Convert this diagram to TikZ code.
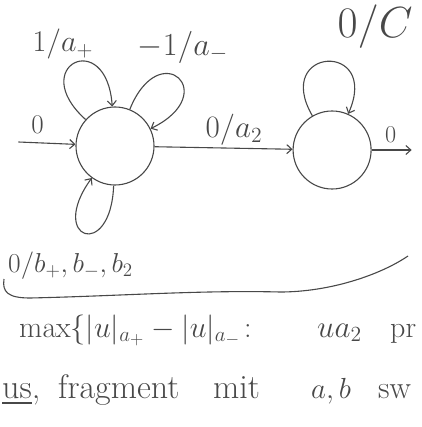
\documentclass[tikz,border=0pt]{standalone}
\usepackage{amsmath,amssymb}
\usepackage{graphicx}
\usetikzlibrary{positioning,arrows.meta}
\definecolor{ink}{RGB}{72,72,72}
\newcommand{\hw}[2][1.4]{\scalebox{#1}{#2}}

\begin{document}
\begin{tikzpicture}[x=1pt,y=-1pt,
		state/.style={circle, draw=ink, line width=1.1pt, minimum size=78pt, inner sep=0pt},
		trans/.style={draw=ink, line width=1.1pt, -{Straight Barb[length=5pt,width=9pt]}},
		lbl/.style={text=ink, inner sep=1pt},
		big/.style={lbl, font=\huge},
		line/.style={lbl, anchor=base west, font=\fontsize{34}{36}\selectfont}]
		% 0. 画布大小与裁剪
		\useasboundingbox (0,0) rectangle (421,427);
		\clip (0,0) rectangle (421,427);
		
		% 1. 两个状态
		\node [state] (q0) at (115,146) {};
		\node [state, right=138pt of q0, yshift=-4pt] (q1) {};
		
		% 2. 入口与出口的自由端
		\coordinate [left=57pt of q0, yshift=4pt] (in);
		\coordinate [right=40pt of q1] (out);
		
		% 3. 转移
		\draw [trans] (in) -- (q0);
		\draw [trans] (q0) -- (q1);
		\draw [trans] (q1) -- (out);
		
		% 自环 (左上, 右上, 下方, 右状态)
		\draw [trans] (q0) to [out=138, in=94, distance=80pt] (q0);
		\draw [trans] (q0) to [out=68, in=26, distance=80pt] (q0);
		\draw [trans] (q0) to [out=-92, in=234, distance=76pt] (q0);
		\draw [trans] (q1) to [out=120, in=66, distance=80pt] (q1);
		
		% 4. 标签
		\node [big] (l_p) at (63,44) {\hw[1.45]{$1/a_+$}};
		\node [big] (l_m) at (183,47) {\hw[1.55]{$-1/a_-$}};
		\node [big] (l_c) at (375,27) {\hw[2.1]{$0/C$}};
		\node [big, above=7pt of in, xshift=19pt] (l_in) {\hw[1.3]{$0$}};
		\node [big] (l_a) at (234,130) {\hw[1.5]{$0/a_2$}};
		\node [lbl, font=\LARGE, above=6pt of out, xshift=-21pt] (l_out) {\hw[1.4]{$0$}};
		\node [big, anchor=west] (l_b) at (7,266) {\hw[1.32]{$0/b_+,b_-,b_2$}};
		
		% 花括号一样的曲线
		\draw [ink, line width=1.1pt] (4,279) .. controls (2,292) and (8,298) .. (30,298)
			.. controls (120,296) and (200,290) .. (280,292)
			.. controls (330,292) and (380,275) .. (408,256);
		
		% 5. 下面两行字
		\node [line, font=\huge] (t1) at (18,337) {\hw[1.45]{$\mathrm{max}\{|u|_{a_+} - |u|_{a_-}\colon$}};
		\node [line, font=\huge] (t2) at (316,337) {\hw[1.5]{$ua_2$}};
		\node [line, font=\fontsize{30}{32}\selectfont] (t3) at (389,337) {pr};
		\node [line] (t4) at (1,398) {\underline{us},};
		\node [line] (t5) at (57,398) {fragment};
		\node [line] (t6) at (212,398) {mit};
		\node [line, font=\huge] (t7) at (310,398) {\hw{$a,b$}};
		\node [line, font=\fontsize{32}{34}\selectfont] (t8) at (377,398) {sw};
	\end{tikzpicture}
\end{document}
